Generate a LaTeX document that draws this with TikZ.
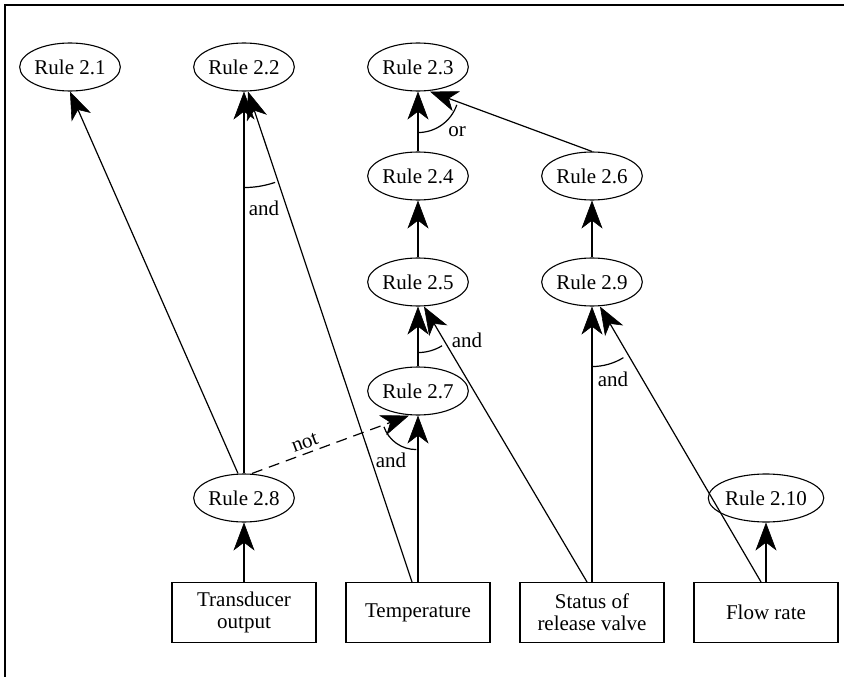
\documentclass[tikz,border=0pt]{standalone}
\usepackage{fontspec}
\setmainfont{Liberation Serif}
\usetikzlibrary{shapes.geometric,arrows.meta,angles}
\begin{document}
\begin{tikzpicture}[x=1pt,y=-1pt,
  every node/.style={font=\fontsize{21}{22}\selectfont},
  rule/.style={ellipse,draw,line width=1.1pt,minimum width=97pt,minimum height=48pt,inner sep=0pt},
  input/.style={rectangle,draw,line width=1.1pt,minimum width=144pt,minimum height=60pt,inner sep=0pt,align=center},
  tip/.style={-{Stealth[length=28pt,width=21pt,inset=8pt,line width=0.6pt]}},
  strong/.style={tip,line width=2.6pt},
  weak/.style={tip,line width=1.2pt},
  negated/.style={weak,dash pattern=on 11pt off 7pt},
  joint/.style={draw,line width=1.2pt,angle radius=#1},
  gate/.style={inner sep=0pt}
]
\useasboundingbox (0,0) rectangle (844,677);
% frame
\draw[line width=2pt] (5,690) -- (5,5) -- (860,5);

% rules
\node[rule] (r21) at (70,67) {Rule 2.1};
\node[rule] (r22) at (244,67) {Rule 2.2};
\node[rule] (r23) at (418,67) {Rule 2.3};
\node[rule] (r24) at (418,176) {Rule 2.4};
\node[rule] (r26) at (592,176) {Rule 2.6};
\node[rule] (r25) at (418,282) {Rule 2.5};
\node[rule] (r29) at (592,282) {Rule 2.9};
\node[rule] (r27) at (418,391) {Rule 2.7};
\node[rule] (r28) at (244,498) {Rule 2.8};
\node[rule] (r210) at (766,498) {Rule 2.10};

% inputs
\node[input] (tran) at (244,612.5) {Transducer\\output};
\node[input] (temp) at (418,612.5) {Temperature};
\node[input] (stat) at (592,612.5) {Status of\\release valve};
\node[input] (flow) at (766,612.5) {Flow rate};

% connector end points off the centre line
\coordinate (a28) at ([xshift=-6pt]r28.north);
\coordinate (b28) at ([xshift=8pt]r28.north);
\coordinate (aT) at ([xshift=-6pt]temp.north);
\coordinate (aS) at ([xshift=-5pt]stat.north);
\coordinate (aF) at ([xshift=-5pt]flow.north);
\coordinate (e22) at ([xshift=4pt]r22.south);
\coordinate (e23) at ([xshift=12pt]r23.south);
\coordinate (e25) at ([xshift=6pt]r25.south);
\coordinate (e27) at ([xshift=-9pt]r27.south);
\coordinate (e29) at ([xshift=8pt]r29.south);

% connectors
\draw[weak] (a28) -- (r21.south);
\draw[strong] (r28.north) -- (r22.south);
\draw[weak] (aT) -- (e22);
\draw[strong] (r24.north) -- (r23.south);
\draw[weak] (r26.north) -- (e23);
\draw[strong] (r25.north) -- (r24.south);
\draw[strong] (r29.north) -- (r26.south);
\draw[strong] (r27.north) -- (r25.south);
\draw[weak] (aS) -- (e25);
\draw[strong] (stat.north) -- (r29.south);
\draw[weak] (aF) -- (e29);
\draw[strong] (temp.north) -- (r27.south);
\draw[negated] (b28) -- node[sloped,above,pos=0.36,inner sep=4pt] (neg) {not} (e27);
\draw[strong] (tran.north) -- (r28.south);
\draw[strong] (flow.north) -- (r210.south);

% vertices and directions of the combination arcs
\coordinate (v22) at (r22.south);
\coordinate (v23) at (r23.south);
\coordinate (v25) at (r25.south);
\coordinate (v29) at (r29.south);
\coordinate (v27) at ([xshift=-2pt]r27.south);
\coordinate (t28) at (r28.north);
\coordinate (t24) at (r24.north);
\coordinate (t26) at (r26.north);
\coordinate (t27) at (r27.north);
\coordinate (tS) at (stat.north);
\coordinate (tT) at (temp.north);

\pic[joint=96pt] {angle = t28--v22--aT};
\pic[joint=41pt] {angle = t24--v23--t26};
\pic[joint=46pt] {angle = t27--v25--aS};
\pic[joint=60pt] {angle = tS--v29--aF};
\pic[joint=34pt] {angle = b28--v27--tT};

% gate labels
\node[gate] (l22) at (264,208) {and};
\node[gate] (l23) at (457,132) {or};
\node[gate] (l25) at (467,340) {and};
\node[gate] (l29) at (613,379) {and};
\node[gate] (l27) at (391,460) {and};
\end{tikzpicture}
\end{document}
